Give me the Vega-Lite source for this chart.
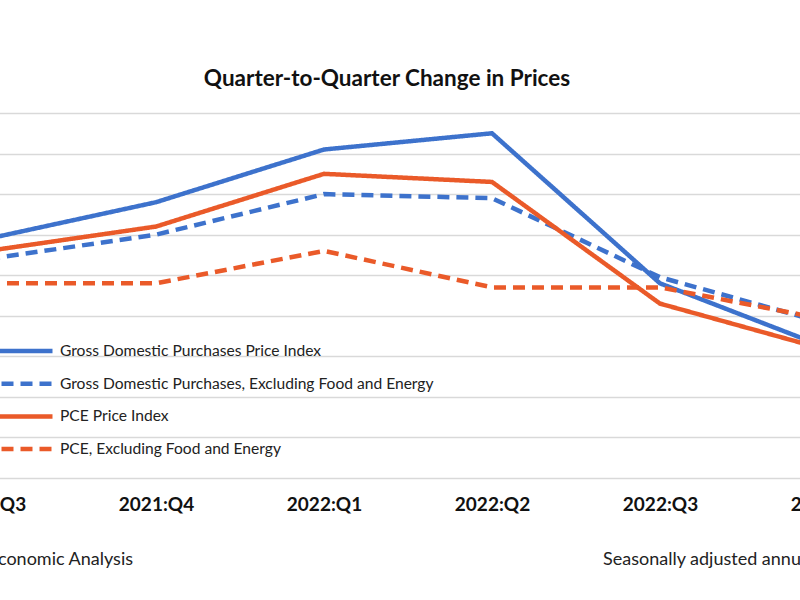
{
  "$schema": "https://vega.github.io/schema/vega-lite/v6.json",
  "width": 800,
  "height": 365,
  "autosize": {"type": "none"},
  "padding": {"top": 113, "left": 0, "right": 0, "bottom": 122},
  "background": "white",
  "title": {"text": "Quarter-to-Quarter Change in Prices", "font": "Lato", "fontSize": 22.5, "fontWeight": "bold", "color": "#111111", "anchor": "middle", "dx": -13, "offset": 23},
  "datasets": {
    "prices": [
      {"quarter": "2021:Q3", "series": "Gross Domestic Purchases Price Index", "value": 5.9},
      {"quarter": "2021:Q4", "series": "Gross Domestic Purchases Price Index", "value": 6.8},
      {"quarter": "2022:Q1", "series": "Gross Domestic Purchases Price Index", "value": 8.1},
      {"quarter": "2022:Q2", "series": "Gross Domestic Purchases Price Index", "value": 8.5},
      {"quarter": "2022:Q3", "series": "Gross Domestic Purchases Price Index", "value": 4.8},
      {"quarter": "2022:Q4", "series": "Gross Domestic Purchases Price Index", "value": 3.2},
      {"quarter": "2021:Q3", "series": "Gross Domestic Purchases, Excluding Food and Energy", "value": 5.4},
      {"quarter": "2021:Q4", "series": "Gross Domestic Purchases, Excluding Food and Energy", "value": 6.0},
      {"quarter": "2022:Q1", "series": "Gross Domestic Purchases, Excluding Food and Energy", "value": 7.0},
      {"quarter": "2022:Q2", "series": "Gross Domestic Purchases, Excluding Food and Energy", "value": 6.9},
      {"quarter": "2022:Q3", "series": "Gross Domestic Purchases, Excluding Food and Energy", "value": 4.95},
      {"quarter": "2022:Q4", "series": "Gross Domestic Purchases, Excluding Food and Energy", "value": 3.8},
      {"quarter": "2021:Q3", "series": "PCE Price Index", "value": 5.6},
      {"quarter": "2021:Q4", "series": "PCE Price Index", "value": 6.2},
      {"quarter": "2022:Q1", "series": "PCE Price Index", "value": 7.5},
      {"quarter": "2022:Q2", "series": "PCE Price Index", "value": 7.3},
      {"quarter": "2022:Q3", "series": "PCE Price Index", "value": 4.3},
      {"quarter": "2022:Q4", "series": "PCE Price Index", "value": 3.15},
      {"quarter": "2021:Q3", "series": "PCE, Excluding Food and Energy", "value": 4.8},
      {"quarter": "2021:Q4", "series": "PCE, Excluding Food and Energy", "value": 4.8},
      {"quarter": "2022:Q1", "series": "PCE, Excluding Food and Energy", "value": 5.6},
      {"quarter": "2022:Q2", "series": "PCE, Excluding Food and Energy", "value": 4.7},
      {"quarter": "2022:Q3", "series": "PCE, Excluding Food and Energy", "value": 4.7},
      {"quarter": "2022:Q4", "series": "PCE, Excluding Food and Energy", "value": 3.9}
    ],
    "source": [{"note": "Source: U.S. Bureau of Economic Analysis"}],
    "basis": [{"note": "Seasonally adjusted annual rates"}]
  },
  "layer": [
    {
      "data": {"name": "prices"},
      "mark": {"type": "line", "strokeWidth": 4.5, "clip": true},
      "encoding": {
        "x": {"field": "quarter", "type": "ordinal", "sort": null,
          "scale": {"type": "point", "range": [-12, 828], "padding": 0},
          "axis": {"title": null, "domain": false, "ticks": false, "grid": false, "labelAngle": 0, "labelFont": "Lato", "labelFontWeight": "bold", "labelFontSize": 19, "labelColor": "#111111", "labelPadding": 17}},
        "y": {"field": "value", "type": "quantitative",
          "scale": {"domain": [0, 9], "nice": false, "zero": true},
          "axis": {"title": null, "values": [0,1,2,3,4,5,6,7,8,9], "labels": false, "ticks": false, "domain": false, "grid": true, "gridColor": "#d9d9d9", "gridWidth": 1.5}},
        "color": {"field": "series", "type": "nominal",
          "scale": {"domain": ["Gross Domestic Purchases Price Index", "Gross Domestic Purchases, Excluding Food and Energy", "PCE Price Index", "PCE, Excluding Food and Energy"], "range": ["#3D72CC", "#3D72CC", "#EA5A29", "#EA5A29"]},
          "legend": {"title": null, "orient": "none", "legendX": -20, "legendY": 228, "symbolType": "stroke", "symbolSize": 4900, "symbolStrokeWidth": 4.5, "labelFont": "Lato", "labelFontSize": 15.6, "labelColor": "#222222", "clipHeight": 20, "rowPadding": 12.7, "labelOffset": 5, "padding": 0, "labelLimit": 600}},
        "strokeDash": {"field": "series", "type": "nominal",
          "scale": {"domain": ["Gross Domestic Purchases Price Index", "Gross Domestic Purchases, Excluding Food and Energy", "PCE Price Index", "PCE, Excluding Food and Energy"], "range": [[1, 0], [12, 7], [1, 0], [12, 7]]},
          "legend": {"title": null, "orient": "none", "legendX": -20, "legendY": 228, "symbolType": "stroke", "symbolSize": 4900, "symbolStrokeWidth": 4.5, "labelFont": "Lato", "labelFontSize": 15.6, "labelColor": "#222222", "clipHeight": 20, "rowPadding": 12.7, "labelOffset": 5, "padding": 0, "labelLimit": 600}}
      }
    },
    {
      "data": {"name": "source"},
      "mark": {"type": "text", "align": "right", "baseline": "middle", "dx": 145, "font": "Lato", "fontSize": 18, "fontWeight": "normal", "color": "#222222"},
      "encoding": {"text": {"field": "note"}, "x": {"datum": "2021:Q3"}, "y": {"datum": -2.02}}
    },
    {
      "data": {"name": "basis"},
      "mark": {"type": "text", "align": "left", "baseline": "middle", "dx": -57, "font": "Lato", "fontSize": 18, "fontWeight": "normal", "color": "#222222"},
      "encoding": {"text": {"field": "note"}, "x": {"datum": "2022:Q3"}, "y": {"datum": -2.02}}
    }
  ],
  "config": {"view": {"stroke": null}}
}
